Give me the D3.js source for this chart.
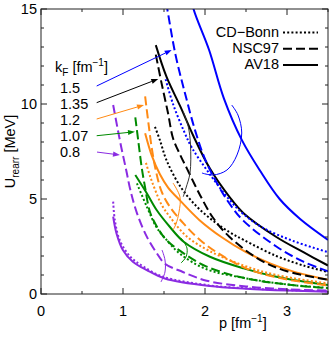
<!DOCTYPE html>
<html><head><meta charset="utf-8">
<script src="https://cdn.jsdelivr.net/npm/d3@7"></script>
<style>body{margin:0;background:#fff}svg{display:block}text{font-family:"Liberation Sans",Arial,sans-serif;fill:#000}</style>
</head><body><svg id="c" width="332" height="338"></svg>
<script>
// ---- data (p [fm^-1], U_rearr [MeV]) ----
const kFLabels = ["1.5","1.35","1.2","1.07","0.8"];
const colors = ["#0000ff","#000000","#ff8a14","#008a00","#8a2be2"];
const potentials = ["CD\u2212Bonn","NSC97","AV18"];
const xTicks = [0,1,2,3];
const yTicks = [0,5,10,15];

const blueDotted  = [[1.52,11.3],[1.61,10.0],[1.74,8.6],[1.84,7.7],[2.06,6.3],[2.3,4.95],[2.47,4.2],[2.7,3.5],[3.07,2.8],[3.5,2.2]];
const blueDashed  = [[1.50,16],[1.54,15],[1.64,12.6],[1.76,10.5],[1.88,8.6],[2.0,7.1],[2.15,5.8],[2.3,4.75],[2.47,3.85],[2.87,2.5],[3.2,1.7],[3.5,1.2]];
const blueSolid   = [[1.80,16.2],[1.86,15.0],[2.05,12.84],[2.23,10.3],[2.45,8.1],[2.67,6.5],[2.91,5.0],[3.16,3.95],[3.5,2.85]];
const blackDotted = [[1.39,8.8],[1.45,8.1],[1.53,7.05],[1.7,5.65],[1.9,4.6],[2.1,3.85],[2.3,3.25],[2.47,2.85],[2.87,2.0],[3.2,1.5],[3.5,1.15]];
const blackDashed = [[1.40,12.6],[1.47,11.1],[1.55,9.5],[1.61,8.2],[1.70,7.3],[1.78,6.6],[1.94,5.2],[2.1,4.0],[2.3,3.0],[2.67,1.8],[3.0,1.2],[3.5,0.75]];
const blackSolid  = [[1.40,13.1],[1.53,11.44],[1.70,9.86],[1.86,8.3],[2.06,6.6],[2.3,5.1],[2.47,4.25],[2.87,3.0],[3.2,2.2],[3.5,1.5]];
const orangeDotted= [[1.28,6.9],[1.33,6.2],[1.39,5.5],[1.47,4.7],[1.57,4.07],[1.78,3.02],[2.06,2.25],[2.47,1.5],[2.87,1.0],[3.5,0.56]];
const orangeDashed= [[1.27,10.4],[1.31,9.0],[1.35,7.7],[1.40,6.5],[1.47,5.4],[1.57,4.6],[1.74,3.7],[1.94,2.84],[2.16,2.15],[2.5,1.35],[2.9,0.85],[3.5,0.45]];
const orangeSolid = [[1.27,8.46],[1.35,7.3],[1.45,6.3],[1.55,5.6],[1.7,4.9],[1.93,3.9],[2.2,3.0],[2.5,2.2],[2.8,1.6],[3.1,1.15],[3.5,0.75]];
const greenDotted = [[1.17,5.82],[1.29,4.6],[1.41,3.5],[1.52,2.9],[1.70,2.1],[2.02,1.3],[2.47,0.85],[3.0,0.5],[3.5,0.32]];
const greenDashed = [[1.15,9.3],[1.19,7.93],[1.23,6.6],[1.27,5.6],[1.33,4.3],[1.42,3.5],[1.53,2.84],[1.74,2.14],[2.02,1.44],[2.47,0.85],[3.0,0.5],[3.5,0.3]];
const greenSolid  = [[1.15,6.26],[1.29,5.3],[1.41,4.42],[1.57,3.54],[1.74,2.75],[2.06,1.96],[2.47,1.35],[2.87,0.91],[3.5,0.47]];
const purpleDotted= [[0.88,4.86],[0.90,3.9],[0.96,2.84],[1.09,1.96],[1.25,1.44],[1.49,0.91],[2.06,0.45],[2.5,0.3],[3.0,0.2],[3.5,0.14]];
const purpleDashed= [[0.88,9.95],[0.93,8.8],[0.98,7.7],[1.04,6.5],[1.09,5.47],[1.17,4.26],[1.29,3.02],[1.41,2.16],[1.51,1.6],[1.73,1.16],[2.02,0.7],[2.5,0.4],[3.0,0.25],[3.5,0.18]];
const purpleSolid = [[0.88,4.07],[0.92,3.2],[1.0,2.3],[1.12,1.7],[1.29,1.26],[1.51,0.82],[2.06,0.42],[2.5,0.28],[3.0,0.18],[3.5,0.12]];

// thin arcs grouping the curves of one k_F
const arcBlue   = [[2.326,9.947],[2.402,9.421],[2.448,8.474],[2.390,7.316],[2.268,6.526],[2.098,6.263],[1.963,6.368]];
const arcBlack  = [[1.735,9.595],[1.796,8.805],[1.823,7.842],[1.817,6.368],[1.768,5.579],[1.735,5.121]];
const arcOrange = [[1.610,5.842],[1.695,5.105],[1.683,4.316],[1.646,3.684],[1.610,3.368]];
const arcGreen  = [[1.707,2.947],[1.780,2.421],[1.768,1.947],[1.707,1.632]];
const arcPurple = [[1.476,2.316],[1.512,1.789],[1.512,1.158],[1.463,0.632]];
// arrows from labels
const arrows = [[[0.679,10.947],[1.594,12.842]],[[0.679,10.07],[1.43,11.32]],[[0.679,9.21],[1.256,9.947]],[[0.679,8.33],[1.146,8.54]],[[0.683,7.47],[0.963,7.316]]];

const series = [
  [blueDotted,blueDashed,blueSolid],
  [blackDotted,blackDashed,blackSolid],
  [orangeDotted,orangeDashed,orangeSolid],
  [greenDotted,greenDashed,greenSolid],
  [purpleDotted,purpleDashed,purpleSolid]];
const arcs = [arcBlue,arcBlack,arcOrange,arcGreen,arcPurple];

// ---- drawing ----
const svg = d3.select("#c");
const L=41,R=328,T=9,B=294;
const x = d3.scaleLinear().domain([0,3.5]).range([L,R]);
const y = d3.scaleLinear().domain([0,15]).range([B,T]);
const dashes = ["2,2.2","9,4",null];

svg.append("clipPath").attr("id","clip").append("rect").attr("x",L).attr("y",T).attr("width",R-L).attr("height",B-T);
const g = svg.append("g").attr("clip-path","url(#clip)");
const line = d3.line().x(d=>x(d[0])).y(d=>y(d[1])).curve(d3.curveCatmullRom.alpha(0.5));
const arcLine = d3.line().x(d=>x(d[0])).y(d=>y(d[1])).curve(d3.curveCatmullRom);

// draw order: back to front
for (let i=series.length-1;i>=0;i--){
  series[i].forEach((s,j)=>{
    g.append("path").attr("d",line(s)).attr("fill","none").attr("stroke",colors[i])
      .attr("stroke-width",2).attr("stroke-dasharray",dashes[j]);
  });
}
arcs.forEach((a,i)=>{
  g.append("path").attr("d",arcLine(a)).attr("fill","none").attr("stroke",i===1?"#333":colors[i]).attr("stroke-width",1);
});
arrows.forEach((a,i)=>{
  const x0=x(a[0][0]),y0=y(a[0][1]),x1=x(a[1][0]),y1=y(a[1][1]);
  const ang=Math.atan2(y1-y0,x1-x0), hl=7, hw=2.6;
  const bx=x1-hl*Math.cos(ang), by=y1-hl*Math.sin(ang);
  g.append("line").attr("x1",x0).attr("y1",y0).attr("x2",bx).attr("y2",by).attr("stroke",colors[i]).attr("stroke-width",1);
  g.append("path").attr("d",`M${x1},${y1}L${bx-hw*Math.sin(ang)},${by+hw*Math.cos(ang)}L${bx+hw*Math.sin(ang)},${by-hw*Math.cos(ang)}Z`).attr("fill",colors[i]);
});

// axes & frame
const ax = svg.append("g").attr("stroke","#222").attr("stroke-width",1).attr("fill","none");
ax.append("rect").attr("x",L).attr("y",T).attr("width",R-L).attr("height",B-T);
const xMinor = d3.range(0,3.51,0.5), yMinor = d3.range(0,15.01,1);
xMinor.forEach(v=>{const len = xTicks.includes(v)?6:3;
  ax.append("line").attr("x1",x(v)).attr("x2",x(v)).attr("y1",B).attr("y2",B-len);
  ax.append("line").attr("x1",x(v)).attr("x2",x(v)).attr("y1",T).attr("y2",T+len);});
yMinor.forEach(v=>{const len = yTicks.includes(v)?6:3;
  ax.append("line").attr("y1",y(v)).attr("y2",y(v)).attr("x1",L).attr("x2",L+len);
  ax.append("line").attr("y1",y(v)).attr("y2",y(v)).attr("x1",R).attr("x2",R-len);});

const fs=14.5;
xTicks.forEach(v=>svg.append("text").attr("x",x(v)).attr("y",316).attr("text-anchor","middle").attr("font-size",fs).text(v));
yTicks.forEach(v=>svg.append("text").attr("x",37).attr("y",y(v)+5).attr("text-anchor","end").attr("font-size",fs).text(v));

// axis titles
const xt = svg.append("text").attr("x",219).attr("y",328).attr("font-size",fs);
xt.append("tspan").text("p [fm");
xt.append("tspan").attr("font-size",10).attr("dy",-6).text("\u22121");
xt.append("tspan").attr("dy",6).text("]");
const yt = svg.append("text").attr("transform",`translate(15,${(T+B)/2}) rotate(-90)`).attr("text-anchor","middle").attr("font-size",fs);
yt.append("tspan").text("U");
yt.append("tspan").attr("font-size",10).attr("dy",4).text("rearr");
yt.append("tspan").attr("dy",-4).text(" [MeV]");

// kF labels
const kt = svg.append("text").attr("x",55).attr("y",72).attr("font-size",fs);
kt.append("tspan").text("k");
kt.append("tspan").attr("font-size",10).attr("dy",4).text("F");
kt.append("tspan").attr("dy",-4).text(" [fm");
kt.append("tspan").attr("font-size",10).attr("dy",-6).text("\u22121");
kt.append("tspan").attr("dy",6).text("]");
kFLabels.forEach((t,i)=>svg.append("text").attr("x",60).attr("y",92.7+i*16).attr("font-size",fs).text(t));

// legend
potentials.forEach((t,i)=>{
  const yy = 32.5+i*16.3;
  svg.append("text").attr("x",279).attr("y",yy+4.3).attr("text-anchor","end").attr("font-size",fs).text(t);
  svg.append("line").attr("x1",283).attr("x2",318).attr("y1",yy).attr("y2",yy).attr("stroke","#000")
    .attr("stroke-width",2).attr("stroke-dasharray",dashes[i]);
});
</script></body></html>
